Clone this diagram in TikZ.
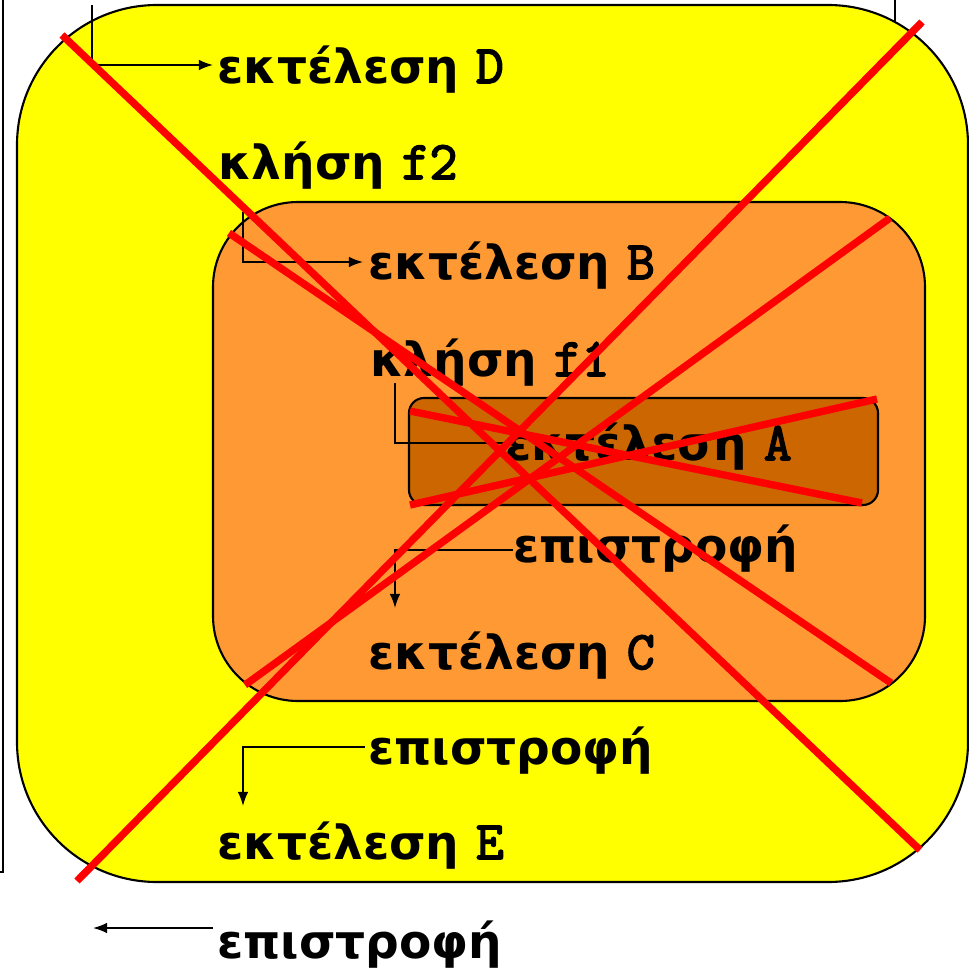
\documentclass[tikz,border=0pt]{standalone}
\usepackage{fontspec}
\setmainfont{DejaVu Sans}
\setmonofont{Latin Modern Mono}[Scale=1.15, BoldFont={Latin Modern Mono}, BoldFeatures={FakeBold=3}]
\usepackage{xcolor}
\usetikzlibrary{arrows.meta, calc}

\definecolor{outerfill}{HTML}{FFFF00}
\definecolor{midfill}{HTML}{FF9933}
\definecolor{innerfill}{HTML}{CC6600}
\newcommand{\code}[1]{{\ttfamily\bfseries #1}}

\begin{document}
\begin{tikzpicture}[x=0.02cm, y=-0.02cm,
					every node/.style={font=\bfseries\fontsize{26.8}{30}\selectfont, inner sep=0pt, anchor=base west},
					outer/.style={draw, line width=1.2pt, fill=outerfill, rounded corners=2.8cm},
					middle/.style={draw, line width=1.2pt, fill=midfill, rounded corners=1.7cm},
					inner/.style={draw, line width=1.2pt, fill=innerfill, rounded corners=0.3cm},
					conn/.style={-{Latex[length=8pt, width=6pt]}, line width=0.9pt},
					cross/.style={red, line width=4.2pt}
				]
					\useasboundingbox (0,0) rectangle (969,970);

					% frame lines behind
					\draw[line width=0.9pt] (895,0) -- (895,40);
					\draw[line width=0.9pt] (3,0) -- (3,872) -- (0,872);

					% Boxes
					\draw[outer] (17,5) rectangle (968,882);
					\draw[middle] (213,202) rectangle (925,701);
					\draw[inner] (409,398) rectangle (878,505);

					% Nodes
					\node (exD) at (217,83) {εκτέλεση \code{D}};
					\node (klf2) at (218,179) {κλήση \code{f2}};
					\node (exB) at (368,279) {εκτέλεση \code{B}};
					\node (klf1) at (370,376) {κλήση \code{f1}};
					\node (exA) at (505,460) {εκτέλεση \code{A}};
					\node (ret1) at (513,562) {επιστροφή};
					\node (exC) at (368,669) {εκτέλεση \code{C}};
					\node (ret2) at (368,764) {επιστροφή};
					\node (exE) at (217,859) {εκτέλεση \code{E}};
					\node (ret3) at (217,958) {επιστροφή};

					% Arrows
					\coordinate (sD) at (92,5);
					\coordinate (sB) at (243,212);
					\coordinate (sA) at (395,383);
					\coordinate (tC) at (395,608);
					\coordinate (tE) at (243,806);
					\coordinate (tOut) at (93,928);
					\draw[conn] (sD) |- ($(exD.base west)+(-4,-18)$);
					\draw[conn] (sB) |- ($(exB.base west)+(-5,-17)$);
					\draw[line width=0.9pt] (sA) |- ($(exA.base west)+(0,-17)$);
					\draw[conn] ($(ret1.base west)+(0,-12)$) -| (tC);
					\draw[conn] ($(ret2.base west)+(-3,-17)$) -| (tE);
					\draw[conn] ($(ret3.base west)+(-4,-30)$) -- (tOut);

					% Crosses
					\draw[cross] (62,35) -- (920,850);
					\draw[cross] (922,22) -- (77,881);
					\draw[cross] (229,233) -- (891,683);
					\draw[cross] (890,218) -- (245,685);
					\draw[cross] (410,411) -- (862,503);
					\draw[cross] (877,399) -- (410,505);
				\end{tikzpicture}
\end{document}
